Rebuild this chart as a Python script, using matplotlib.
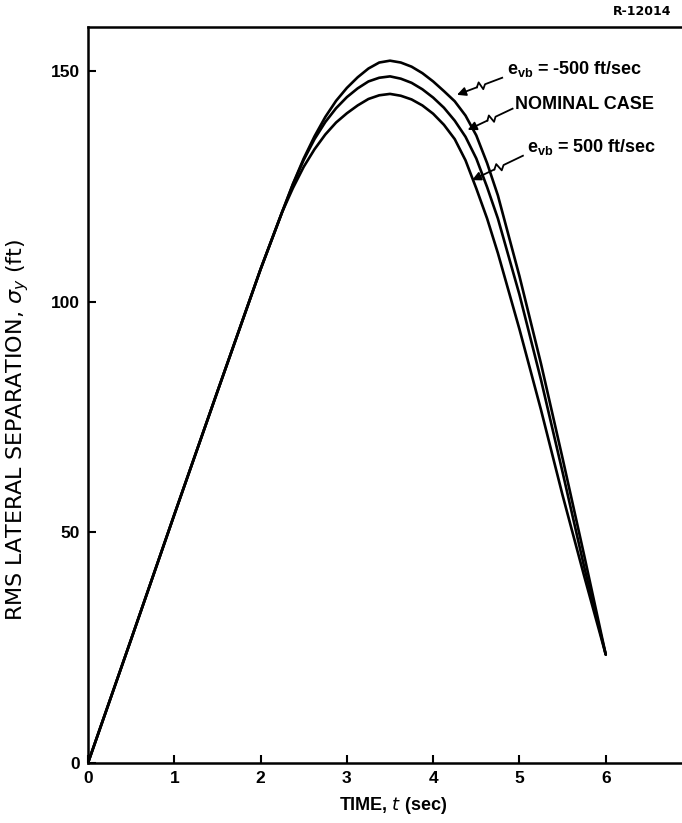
import numpy as np
import matplotlib.pyplot as plt

plt.rcParams['font.family'] = ['Liberation Sans', 'DejaVu Sans']

# rising part shared by all three cases
t_rise = [0.0, 0.5, 1.0, 1.5, 2.0, 2.25]
y_rise = [0.0, 26.8, 53.8, 80.5, 107.0, 119.4]

t_fall = [2.375, 2.5, 2.625, 2.75, 2.875, 3.0, 3.125, 3.25, 3.375, 3.5, 3.625, 3.75,
          3.875, 4.0, 4.125, 4.25, 4.375, 4.5, 4.625, 4.75, 5.0, 5.25, 5.5, 5.75, 6.0]
# e_vb = -500 ft/sec
y_neg500 = [125.5, 131.0, 135.8, 140.0, 143.5, 146.3, 148.6, 150.5, 151.8, 152.2, 151.8, 150.9,
            149.5, 147.7, 145.6, 143.4, 140.3, 136.0, 130.0, 123.0, 105.5, 86.5, 66.0, 45.0, 23.5]
# nominal case
y_nominal = [125.4, 130.7, 135.2, 138.9, 141.9, 144.3, 146.2, 147.7, 148.5, 148.8, 148.3, 147.4,
             146.0, 144.2, 142.0, 139.2, 135.7, 131.0, 124.8, 118.0, 101.5, 83.0, 63.0, 42.5, 23.5]
# e_vb = 500 ft/sec
y_pos500 = [124.6, 129.2, 133.0, 136.2, 138.8, 140.8, 142.5, 143.9, 144.7, 145.0, 144.6, 143.8,
            142.5, 140.7, 138.3, 135.2, 130.6, 124.5, 118.0, 110.5, 94.0, 76.5, 58.0, 40.5, 23.5]

xticks = [0, 1, 2, 3, 4, 5, 6, 7]
yticks = [0, 50, 100, 150]

fig = plt.figure(figsize=(6.82, 8.23), dpi=100)
ax = fig.add_axes([0.129, 0.0729, 0.949, 0.8943])

for ys in [y_neg500, y_nominal, y_pos500]:
    ax.plot(t_rise + t_fall, y_rise + ys, color='k', lw=1.9, solid_capstyle='round')

ax.set_xlim(0, 7.5)
ax.set_ylim(0, 159.5)
ax.set_xticks(xticks)
ax.set_yticks(yticks)
ax.tick_params(direction='in', length=6, width=1.5, labelsize=12.5, pad=6)
for lab in ax.get_xticklabels() + ax.get_yticklabels():
    lab.set_fontweight('bold')
for s in ax.spines.values():
    s.set_linewidth(1.8)

ax.set_xlabel('TIME, $\\mathit{t}$ (sec)', fontsize=13, fontweight='bold')
ax.xaxis.set_label_coords(0.471, -0.043)
ax.set_ylabel('RMS LATERAL SEPARATION, $\\sigma_y$ (ft)', fontsize=16,
              family='DejaVu Sans')
ax.yaxis.set_label_coords(-0.088, 0.452)


def broken_arrow(tail, tip):
    # leader line with a small zigzag break, drawn in pixel space
    p0 = ax.transData.transform(tail)
    p1 = ax.transData.transform(tip)
    v = p1 - p0
    L = np.hypot(*v)
    u = v / L
    n = np.array([-u[1], u[0]])
    steps = [(0.0, 0), (0.38, 0), (0.45, 4), (0.49, -4), (0.56, 0)]
    pts = np.array([p0 + s * L * u + d * n for s, d in steps])
    pts = ax.transData.inverted().transform(pts)
    ax.plot(pts[:, 0], pts[:, 1], color='k', lw=1.3)
    ax.annotate('', xy=tip, xytext=tuple(pts[-1]),
                arrowprops=dict(arrowstyle='-|>', color='k', lw=1.3,
                                mutation_scale=13, shrinkA=0, shrinkB=0))


ann = dict(fontsize=13, fontweight='bold', va='center', ha='left')
ax.text(4.85, 150.4, '$\\mathregular{e_{vb}}$ = -500 ft/sec', **ann)
ax.text(4.95, 142.6, 'NOMINAL CASE', **ann)
ax.text(5.09, 133.5, '$\\mathregular{e_{vb}}$ = 500 ft/sec', **ann)
broken_arrow((4.80, 148.5), (4.276, 144.8))
broken_arrow((4.92, 141.8), (4.40, 137.2))
broken_arrow((5.04, 131.6), (4.45, 126.3))

fig.text(0.985, 0.986, 'R-12014', fontsize=9, fontweight='bold', ha='right', va='center',
         family='DejaVu Sans')

fig.savefig('out.png', dpi=100)
